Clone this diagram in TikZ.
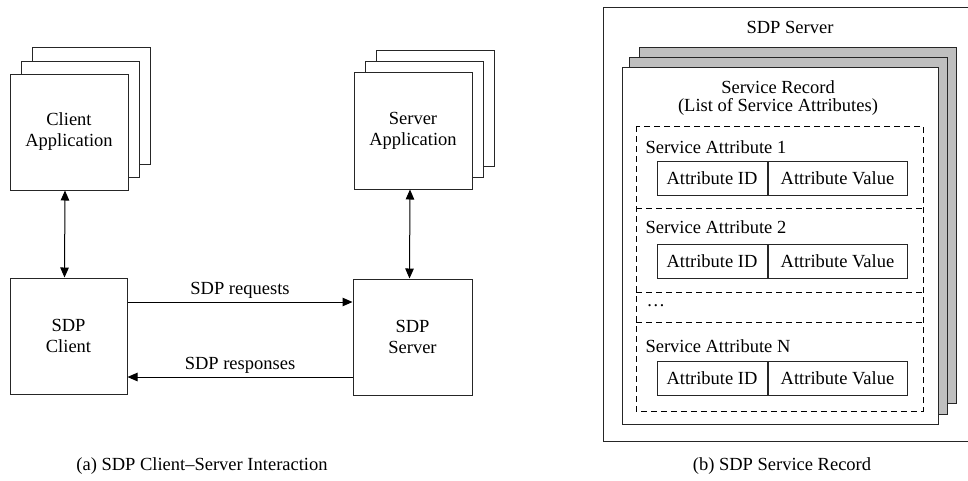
\documentclass[tikz,border=0pt]{standalone}
\usepackage{fontspec}
\setmainfont{Liberation Serif}
\usetikzlibrary{arrows.meta,calc}

\begin{document}
\begin{tikzpicture}[x=1pt, y=-1pt, line width=1pt,
	every node/.style={align=center, font=\fontsize{18.5}{21}\selectfont},
	box/.style={rectangle, draw=black!85, fill=white, inner sep=0pt},
	card/.style={rectangle, draw=black!85, fill=black!25, inner sep=0pt},
	field/.style={rectangle, draw=black!85, inner sep=0pt, minimum height=34pt},
	tip/.style={-{Triangle[length=10pt, width=8.5pt]}},
	both/.style={{Triangle[length=10pt, width=8.5pt]}-{Triangle[length=10pt, width=8.5pt]}},
	slot/.style={dashed, dash pattern=on 6pt off 4pt}]
	\useasboundingbox (0, 0) rectangle (968, 480);

	% client side: stacked application pages and the SDP client
	\node[box, minimum width=118pt, minimum height=117pt] (capp3) at (91, 105.5) {};
	\node[box, minimum width=118pt, minimum height=116pt] (capp2) at (80, 119) {};
	\node[box, minimum width=118pt, minimum height=116pt] (capp) at (69, 132)
		{Client\\Application};
	\node[box, minimum width=117pt, minimum height=116pt] (client) at (68.5, 336)
		{SDP\\Client};

	% server side
	\node[box, minimum width=118pt, minimum height=116pt] (sapp3) at (435, 108) {};
	\node[box, minimum width=118pt, minimum height=116pt] (sapp2) at (424, 119) {};
	\node[box, minimum width=118pt, minimum height=117pt] (sapp) at (413, 130.5)
		{Server\\Application};
	\node[box, minimum width=119pt, minimum height=116pt] (server) at (412.5, 337)
		{SDP\\Server};

	\draw[both] ([xshift=-4pt]capp.south) -- ([xshift=-4pt]client.north);
	\draw[both] ([xshift=-3pt]sapp.south) -- ([xshift=-3pt]server.north);
	\draw[tip] ([yshift=34pt]client.east) -- node[above] (req) {SDP requests}
		([yshift=35pt]server.west);
	\draw[tip] ([yshift=-40pt]server.west) -- node[above] (resp) {SDP responses}
		([yshift=-41pt]client.east);

	\node (capa) at (202, 466) {(a) SDP Client--Server Interaction};

	% service record inside the server
	\draw[draw=black!85] (603, 7) rectangle (985, 441);
	\node (srvname) at (790, 27) {SDP Server};
	\node[card, minimum width=317pt, minimum height=356pt] (rec3) at (797.5, 225) {};
	\node[card, minimum width=318pt, minimum height=357pt] (rec2) at (788, 235.5) {};
	\node[box, minimum width=316pt, minimum height=357pt] (rec) at (780, 245.5) {};
	\node[font=\fontsize{18.5}{18}\selectfont] (rectitle) at (778, 98)
		{Service Record\\(List of Service Attributes)};

	\draw[slot] (636, 126) rectangle (923, 411);
	\draw[slot] (636, 208) -- (923, 208);
	\draw[slot] (636, 292) -- (923, 292);
	\draw[slot] (636, 322) -- (923, 322);

	\foreach \ly/\by/\n in {147/178/1, 227/261.5/2, 346/378/N} {
		\node[anchor=west, inner sep=0pt] (attr\n) at (645, \ly) {Service Attribute \n};
		\node[field, minimum width=110pt] (id\n) at (712, \by) {Attribute ID};
		\node[field, minimum width=139pt, anchor=west] (val\n) at (id\n.east) {Attribute Value};
	}
	\node[anchor=west, inner sep=0pt] (more) at (646, 306) {\ldots};

	\node (capb) at (782, 466) {(b) SDP Service Record};
\end{tikzpicture}
\end{document}
